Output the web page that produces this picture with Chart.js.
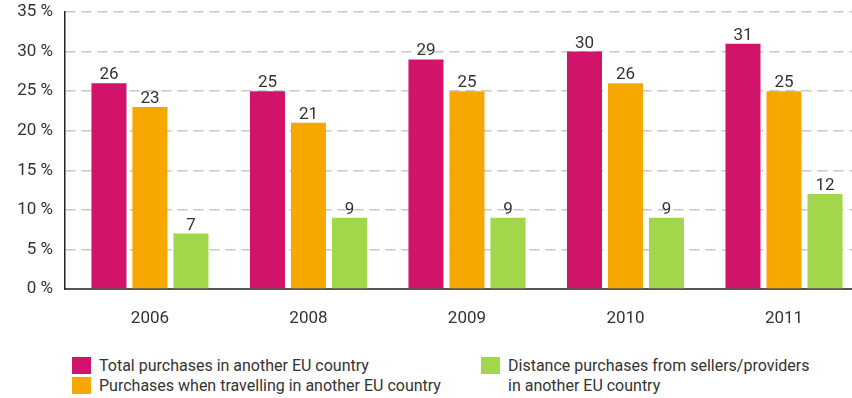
<!DOCTYPE html>
<html>
<head>
<meta charset="utf-8">
<script src="https://cdn.jsdelivr.net/npm/chart.js@4/dist/chart.umd.min.js"></script>
<style>
  html, body { margin: 0; padding: 0; background: #fff; overflow: hidden; }
  #wrap { position: relative; width: 852px; height: 398px; }
  #c { position: absolute; left: 0; top: 0; }
  .item { position: absolute; font: 16px Roboto, sans-serif; color: #333; line-height: 20px; }
  .item i { position: absolute; left: 0; top: 1px; width: 19px; height: 17px; }
  .item span { display: block; margin-left: 27px; }
</style>
</head>
<body>
<div id="wrap">
  <canvas id="c" width="852" height="330"></canvas>
  <div id="legend"></div>
</div>
<script>
const years = ['2006', '2008', '2009', '2010', '2011'];
const totalAbroad = [26, 25, 29, 30, 31];
const travelling = [23, 21, 25, 26, 25];
const distance = [7, 9, 9, 9, 12];
const seriesNames = [
  'Total purchases in another EU country',
  'Purchases when travelling in another EU country',
  'Distance purchases from sellers/providers in another EU country'
];
const seriesColors = ['#d1136a', '#f7a800', '#a2d74b'];

const textColor = '#333';
const fontFamily = 'Roboto, sans-serif';

// bars sit on a linear x axis so the year groups can be offset from the y axis line
const toPoints = arr => arr.map((v, i) => ({ x: i, y: v }));

// numbers above each bar
const valueLabels = {
  id: 'valueLabels',
  afterDatasetsDraw(chart) {
    const ctx = chart.ctx;
    ctx.save();
    ctx.font = '17px ' + fontFamily;
    ctx.fillStyle = textColor;
    ctx.textAlign = 'center';
    ctx.textBaseline = 'alphabetic';
    chart.data.datasets.forEach((ds, i) => {
      chart.getDatasetMeta(i).data.forEach((bar, j) => {
        ctx.fillText(ds.data[j].y, bar.x, bar.y - 4);
      });
    });
    ctx.restore();
  }
};

const chart = new Chart(document.getElementById('c'), {
  type: 'bar',
  data: {
    datasets: [
      { label: seriesNames[0], data: toPoints(totalAbroad), backgroundColor: seriesColors[0] },
      { label: seriesNames[1], data: toPoints(travelling), backgroundColor: seriesColors[1] },
      { label: seriesNames[2], data: toPoints(distance), backgroundColor: seriesColors[2] }
    ]
  },
  options: {
    responsive: false,
    animation: false,
    events: [],
    layout: { padding: { top: 12, right: 0, bottom: 0, left: 0 } },
    categoryPercentage: 0.776,
    barPercentage: 0.854,
    plugins: {
      legend: { display: false },
      tooltip: { enabled: false }
    },
    scales: {
      x: {
        type: 'linear',
        offset: false,
        min: -0.536,
        max: 4.429,
        afterBuildTicks: s => { s.ticks = years.map((y, i) => ({ value: i })); },
        afterFit: s => { s.height = 41; },
        grid: { display: false, offset: false },
        border: { color: '#555', width: 2 },
        ticks: {
          padding: 12,
          color: textColor,
          font: { family: fontFamily, size: 17 },
          callback: v => years[v]
        }
      },
      y: {
        min: 0,
        max: 35,
        afterFit: s => { s.width = 65; },
        // invisible tick marks give the gap between labels and the axis line
        grid: { color: '#c8c8c8', lineWidth: 1.5, drawTicks: true, tickLength: 12, tickColor: 'rgba(0,0,0,0)' },
        border: { color: '#222', width: 1.5, dash: [10, 6] },
        ticks: {
          stepSize: 5,
          padding: 0,
          color: textColor,
          font: { family: fontFamily, size: 17 },
          callback: v => v + ' %'
        }
      }
    }
  },
  plugins: [valueLabels]
});

// legend: two entries in the first column, the long one in the second
const legendSlots = [
  { left: 72, top: 356, width: 400 },
  { left: 72, top: 376, width: 400 },
  { left: 481, top: 356, width: 330 }
];
const legend = document.getElementById('legend');
chart.data.datasets.forEach((ds, i) => {
  const slot = legendSlots[i];
  const item = document.createElement('div');
  item.className = 'item';
  item.style.left = slot.left + 'px';
  item.style.top = slot.top + 'px';
  item.style.width = slot.width + 'px';
  const sw = document.createElement('i');
  sw.style.background = ds.backgroundColor;
  const txt = document.createElement('span');
  txt.textContent = ds.label;
  item.appendChild(sw);
  item.appendChild(txt);
  legend.appendChild(item);
});
</script>
</body>
</html>
